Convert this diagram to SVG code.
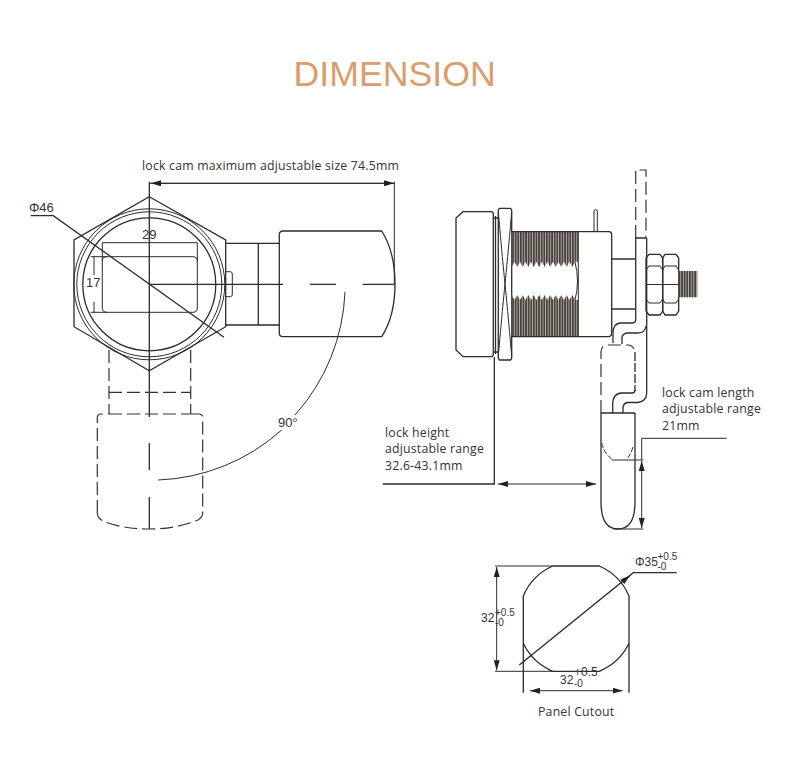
<svg xmlns="http://www.w3.org/2000/svg" width="790" height="764" viewBox="0 0 790 764">
<style>
.l{fill:none;stroke:#2c2c2c;stroke-width:1}
.m{fill:none;stroke:#2c2c2c;stroke-width:1.3}
.d{fill:none;stroke:#333;stroke-width:1.2;stroke-dasharray:13 5}
.t{font-family:"Open Sans","Noto Sans",sans-serif;font-size:12.3px;fill:#333;letter-spacing:.2px}
.n{font-family:"Liberation Sans",Arial,sans-serif;font-size:13px;fill:#333}
.c{font-family:"Liberation Sans",Arial,sans-serif;font-size:12px;fill:#333}
.s{font-family:"Liberation Sans",Arial,sans-serif;font-size:10px;fill:#333}
</style>
<defs>
<marker id="a" viewBox="0 0 10 6" refX="10" refY="3" markerWidth="10" markerHeight="6" orient="auto-start-reverse" markerUnits="userSpaceOnUse"><path d="M0 0L10 3L0 6z" fill="#222"/></marker>
<pattern id="h" width="2.6" height="6" patternUnits="userSpaceOnUse"><rect width="2.6" height="6" fill="#b8b2ac"/><rect width="1.7" height="6" fill="#45403c"/></pattern>
</defs>
<rect width="790" height="764" fill="#fff"/>
<text x="293.500" y="86" font-family="Liberation Sans,Arial,sans-serif" font-size="35.700" fill="#d99e6b">DIMENSION</text>

<g id="front-view">
<path class="m" d="M149.300 196.700L225.700 240V326.700L149.300 370.700L74 326.700V240Z"/>
<circle class="l" cx="149.300" cy="284.300" r="75.500"/>
<circle class="l" cx="149.300" cy="284.300" r="72.500"/>
<circle class="m" cx="149.300" cy="284.300" r="66.500"/>
<path class="l" d="M102.300 242.700H197.300V308Q197.300 312.300 193 312.300H107Q102.300 312.300 102.300 308V261Q102.300 256.700 107 256.700H193Q197.300 256.700 197.300 261"/>
<path class="l" d="M102.300 242.700V261M90.700 256.700H107M90.700 312.300H107M94 256.700V275M94 302V312.300"/>
<path class="m" d="M225.700 243.300H279.300M225.700 325H279.300M258.300 243.300V325"/>
<path class="l" d="M225.700 271.700H230.300Q232.300 271.700 232.300 274V294.500Q232.300 296.700 230.300 296.700H225.700"/>
<path class="m" d="M283 231H381.700Q395 252 395 284Q395 316 381.700 336.700H283Q279.300 336.700 279.300 333V235Q279.300 231 283 231Z"/>
<path class="m" d="M149.300 181.700V417M149.300 284.300H283M310 284.300H336M362.700 284.300H394"/>
<path class="m" d="M149.300 443V470M149.300 497V529"/>
<path class="m" d="M30.700 215.700H53.300L224 337.300"/>
<path class="d" d="M109 350V414M190.700 350V414M109 392.300H190.700M109 414H190.700"/>
<path class="d" d="M97.300 513V418Q97.300 414 101 414H109M190.700 414H199Q202.700 414 202.700 418V513Q202.700 517 198 520Q176 529 150 529Q122 529 103 521Q97.300 518 97.300 513"/>
<path class="l" d="M158.300 480A196 196 0 0 0 281.700 430M295 415A196 196 0 0 0 345 291.700"/>
</g>

<g id="side-view">
<path class="m" d="M463 211.700H491Q493.300 211.700 493.300 214V354Q493.300 356.700 491 356.700H463L456 350V218Z"/>
<path class="m" d="M493.300 218H498.300M493.300 352H498.300M495.500 216V354"/>
<path class="m" d="M499.500 208.300H510.500L511.700 210V358.500L510.500 360H499.500L498.300 358.500V210Z"/>
<path class="l" d="M498.300 212Q503 265 505 284Q503 303 498.300 356M511.700 212Q507 265 505 284Q507 303 511.700 356"/>
<path d="M511.700 231.700H578V261.700H575L572.200 267L569.400 261.700L566.700 267L564 261.700L561.200 267L558.400 261.700L555.700 267L553 261.700L550.200 267L547.400 261.700L544.700 267L542 261.700L539.200 267L536.400 261.700L533.700 267L531 261.700L528.200 267L525.400 261.700L522.700 267L520 261.700L517.200 267L514.400 261.700L511.700 267Z" fill="url(#h)"/>
<path d="M511.700 295L514.400 300L517.200 295L520 300L522.700 295L525.400 300L528.200 295L531 300L533.700 295L536.400 300L539.200 295L542 300L544.700 295L547.400 300L550.200 295L553 300L555.700 295L558.400 300L561.200 295L564 300L566.700 295L569.400 300L572.200 295L575 300H578V336.700H511.700Z" fill="url(#h)"/>
<path class="l" d="M575 262Q580 281 575 300M578.300 231.700V336.700"/>
<path class="m" d="M511.700 231.700H609Q611.700 231.700 611.700 235V333Q611.700 336.700 608 336.700H511.700"/>
<path class="l" d="M594 231.700V210.500Q595.600 208.500 597.300 210.500V231.700"/>
<path class="m" d="M611.700 259H635.700M611.700 309H635.700"/>
<path class="d" d="M635.700 238V170H646V238"/>
<path class="m" d="M635.700 238H646M635.700 238V320Q635.700 323 632 323H620Q613 324 613 333V343"/>
<path class="m" d="M646.700 238V393Q646.700 401 638 402.500H628Q623 403 623 408V413"/>
<path class="m" d="M646 326Q645 333 638 333H627Q622 334 622 338V344"/>
<path class="m" d="M649 254.300H660L662.700 258V311L660 315H649L646 311V258Z"/>
<path class="m" d="M665 254.300H676L678.700 258V311L676 315H665L662.700 311V258Z"/>
<path class="l" d="M646 270L649 266H660L662.700 270M662.700 270L665 266H676L678.700 270M646 299L649 303H660L662.700 299M662.700 299L665 303H676L678.700 299M646 284.500H678.700"/>
<rect x="678.700" y="271" width="18.600" height="26.300" fill="url(#h)"/>
<path d="M601 413V352Q601 345 608 345H628Q632 345 634 349" class="d" stroke-dasharray="16 5"/>
<path class="m" d="M635 352V391" stroke-dasharray="9 2"/>
<path class="m" d="M612.700 413V404Q613 393 622 393H632Q635 393 635 390"/>
<path class="m" d="M601 413H635M601 413V502Q601 529 618 529Q635 529 635 502V413"/>
<path class="l" d="M601.700 443Q604 453 611.700 459M633 447Q631 454 627 459" stroke-dasharray="5 2"/>
</g>

<g id="dimensions">
<path class="l" d="M149.300 183.300H394.300M394.300 181.700V285"/>
<path class="l" d="M151 183.300H394" marker-start="url(#a)" marker-end="url(#a)"/>
<path class="m" d="M382.700 484H494.300V357"/>
<path class="l" d="M498 484H596" marker-start="url(#a)" marker-end="url(#a)"/>
<path class="l" d="M611.700 460H643.300M613 529H643.300"/>
<path class="l" d="M641.700 461V528" marker-start="url(#a)" marker-end="url(#a)"/>
<path class="l" d="M641.700 460V438.300H726.700"/>
</g>

<g id="panel-cutout">
<path class="m" d="M523.300 596A57.600 57.600 0 0 1 552.700 566H599.300A57.600 57.600 0 0 1 629 596V692.700M629 643.300A57.600 57.600 0 0 1 599.300 671.300H552.700A57.600 57.600 0 0 1 523.300 643.300M523.300 596V692.700"/>
<path class="l" d="M495 566H552.700M495 671.300H552.700"/>
<path class="l" d="M496.700 567V670.300" marker-start="url(#a)" marker-end="url(#a)"/>
<path class="l" d="M530 690.700H622.700" marker-start="url(#a)" marker-end="url(#a)"/>
<path class="m" d="M519.300 665L633.300 572.700H676.700"/>
<path d="M531 655.500L523 662M621.500 582.500L630 575.500" class="l" marker-end="url(#a)"/>
</g>

<g id="labels">
<text class="t" x="142" y="170">lock cam maximum adjustable size 74.5mm</text>
<text class="n" x="29" y="212">Φ46</text>
<text class="n" x="142" y="239">29</text>
<text class="n" x="86" y="287">17</text>
<text class="n" x="278" y="427">90°</text>
<text class="t" x="385" y="437">lock height</text>
<text class="t" x="385" y="453">adjustable range</text>
<text class="t" x="385" y="470">32.6-43.1mm</text>
<text class="t" x="662" y="397">lock cam length</text>
<text class="t" x="662" y="413">adjustable range</text>
<text class="t" x="662" y="430">21mm</text>
<text class="c" x="635" y="566">Φ35</text>
<text class="s" x="657.500" y="559.500">+0.5</text>
<text class="s" x="657.500" y="569.500">-0</text>
<text class="c" x="481" y="622">32</text>
<text class="s" x="495" y="615.500">+0.5</text>
<text class="s" x="495" y="625.500">-0</text>
<text class="c" x="560" y="684">32</text>
<text class="c" x="574" y="676">+0.5</text>
<text class="s" x="574" y="687">-0</text>
<text class="t" x="538" y="716">Panel Cutout</text>
</g>
</svg>
